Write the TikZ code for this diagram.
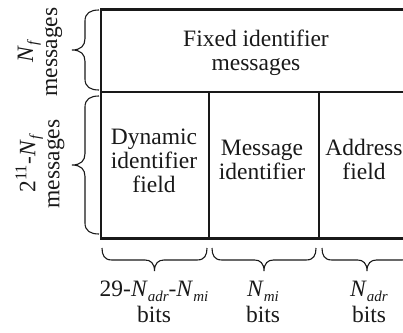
\documentclass[tikz,border=0pt]{standalone}
\usepackage{fontspec}
\setmainfont{Liberation Serif}
\usetikzlibrary{decorations}
\pgfdeclaredecoration{tbrace}{brace}{%
  \state{brace}[width=+\pgfdecoratedremainingdistance,next state=final]{%
    \pgfmathsetmacro\tbL{\pgfdecoratedremainingdistance}%
    \pgfmathsetmacro\tbA{\pgfdecorationsegmentamplitude}%
    \pgfmathsetmacro\tbH{0.52*\tbA}%
    \pgfmathsetmacro\tbR{0.42*\tbA}%
    \pgfmathsetmacro\tbM{0.5*\tbL}%
    \pgfpathmoveto{\pgfpointorigin}%
    \pgfpathcurveto{\pgfpoint{0pt}{0.6*\tbH}}{\pgfpoint{0.25*\tbR}{\tbH}}{\pgfpoint{\tbR}{\tbH}}%
    \pgfpathlineto{\pgfpoint{\tbM-\tbR}{\tbH}}%
    \pgfpathcurveto{\pgfpoint{\tbM-0.4*\tbR}{\tbH}}{\pgfpoint{\tbM}{\tbH+0.3*(\tbA-\tbH)}}{\pgfpoint{\tbM}{\tbA}}%
    \pgfpathcurveto{\pgfpoint{\tbM}{\tbH+0.3*(\tbA-\tbH)}}{\pgfpoint{\tbM+0.4*\tbR}{\tbH}}{\pgfpoint{\tbM+\tbR}{\tbH}}%
    \pgfpathlineto{\pgfpoint{\tbL-\tbR}{\tbH}}%
    \pgfpathcurveto{\pgfpoint{\tbL-0.25*\tbR}{\tbH}}{\pgfpoint{\tbL}{0.6*\tbH}}{\pgfpoint{\tbL}{0pt}}%
  }%
  \state{final}{\pgfpathmoveto{\pgfpointdecoratedpathlast}}%
}
\newcommand\Nsb[1]{\textit{N}\raisebox{-4.5pt}{\fontsize{15}{15}\selectfont\itshape #1}}
\tikzset{
  lbl/.style={inner sep=0pt, align=center, font=\fontsize{23.5}{24}\selectfont, text=black!90},
  outer/.style={line width=2.6pt, black!90},
  inner/.style={line width=1.2pt, black!90},
  hbr/.style={line width=1.1pt, black!90, decorate, decoration={tbrace, amplitude=23pt}},
  vbr/.style={line width=1.1pt, black!90, decorate, decoration={tbrace, amplitude=27pt}}
}
\begin{document}
\begin{tikzpicture}[x=1pt,y=-1pt]
\clip (0,0) rectangle (403,332);
% box
\coordinate (tl) at (101,9.5);
\coordinate (tr) at (412,9.5);
\coordinate (bl) at (101,238.5);
\coordinate (br) at (412,238.5);
\coordinate (ml) at (101,92);
\coordinate (mr) at (412,92);
\coordinate (v1t) at (209,92);
\coordinate (v1b) at (209,238.5);
\coordinate (v2t) at (319,92);
\coordinate (v2b) at (319,238.5);
\draw[outer] (tr) -- (tl) -- (bl) -- (br);
\draw[inner] (ml) -- (mr);
\draw[inner] (v1t) -- (v1b);
\draw[inner] (v2t) -- (v2b);
% cell texts
\node[lbl] (fixed) at (256,53) {Fixed identifier\\messages};
\node[lbl] (dyn) at (154,161) {Dynamic\\identifier\\field};
\node[lbl] (msg) at (262,159.5) {Message\\identifier};
\node[lbl] (adr) at (364,159.5) {Address\\field};
% left braces
\coordinate (b1s) at (99,90);
\coordinate (b1e) at (99,10);
\coordinate (b2s) at (99,234);
\coordinate (b2e) at (99,96);
\draw[vbr] (b1s) -- (b1e);
\draw[vbr] (b2s) -- (b2e);
\node[lbl, rotate=90] (nf) at (40,52) {\Nsb{f}\\messages};
\node[lbl, rotate=90] (nd) at (40,164) {2\textsuperscript{11}-\Nsb{f}\\messages};
% bottom braces
\coordinate (c1s) at (207,248);
\coordinate (c1e) at (102,248);
\coordinate (c2s) at (316,248);
\coordinate (c2e) at (212,248);
\coordinate (c3s) at (412,248);
\coordinate (c3e) at (322,248);
\draw[hbr] (c1s) -- (c1e);
\draw[hbr] (c2s) -- (c2e);
\draw[hbr] (c3s) -- (c3e);
\node[lbl] (w1) at (154,302) {29-\Nsb{adr}-\Nsb{mi}\\[2pt]bits};
\node[lbl] (w2) at (263,302) {\Nsb{mi}\\[2pt]bits};
\node[lbl] (w3) at (369,302) {\Nsb{adr}\\[2pt]bits};
\end{tikzpicture}
\end{document}
